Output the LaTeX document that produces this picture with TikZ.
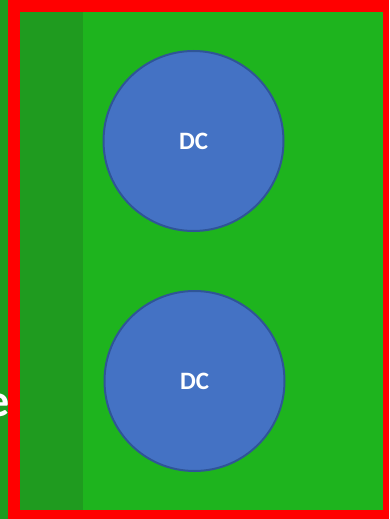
\documentclass[tikz,border=0pt]{standalone}
\usepackage{fontspec}
\setmainfont{Carlito}
\definecolor{fieldgreen}{HTML}{1EB41E}
\definecolor{stripgreen}{HTML}{1F9B1F}
\definecolor{frame}{HTML}{FF0000}
\definecolor{dcfill}{HTML}{4472C4}
\definecolor{dcline}{HTML}{2F5597}
\tikzset{
  dcnode/.style={circle, fill=dcfill, draw=dcline, line width=2pt,
    minimum size=180pt, inner sep=0pt, text=white,
    font=\fontsize{25}{29}\selectfont\bfseries},
}
\begin{document}
\begin{tikzpicture}[x=1pt, y=-1pt]
  \useasboundingbox (0,0) rectangle (389,519);
  \clip (0,0) rectangle (389,519);
  % background and frame
  \fill[stripgreen] (0,0) rectangle (389,519);
  \fill[frame] (8,0) rectangle (389,519);
  \fill[stripgreen] (20,12) rectangle (83,510);
  \fill[fieldgreen] (83,12) rectangle (383,510);
  % label running off the left edge
  \node[anchor=base east, inner sep=0pt, text=white,
    font=\fontsize{46}{50}\selectfont\bfseries] (lbl) at (9.5,416) {e};
  % data centres
  \node[dcnode] (dc1) at (193.5,141) {DC};
  \node[dcnode] (dc2) at (194.5,381) {DC};
\end{tikzpicture}
\end{document}
